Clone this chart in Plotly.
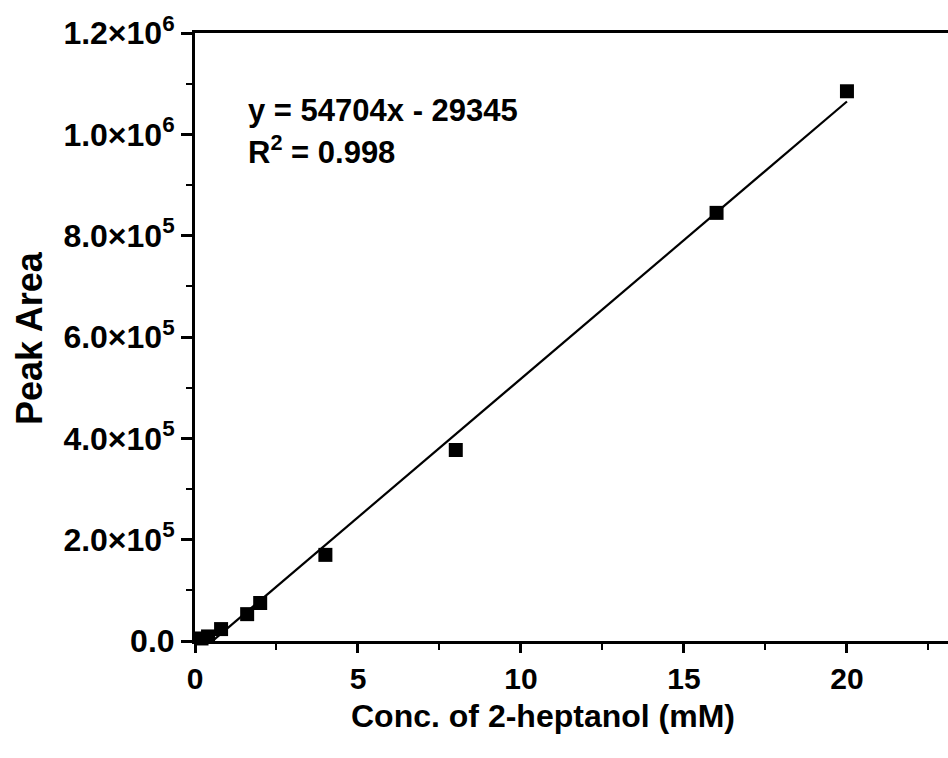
import plotly.graph_objects as go

conc = [0.2, 0.4, 0.8, 1.6, 2.0, 4.0, 8.0, 16.0, 20.0]
peak_area = [5000, 9000, 23500, 53000, 75000, 170000, 377000, 845000, 1085000]

slope = 54704
intercept = -29345
fit_x = [0.2, 20.0]
fit_y = [slope * v + intercept for v in fit_x]

y_tickvals = [0, 2e5, 4e5, 6e5, 8e5, 1e6, 1.2e6]
y_ticktext = ["0.0", "2.0×10<sup>5</sup>", "4.0×10<sup>5</sup>", "6.0×10<sup>5</sup>",
              "8.0×10<sup>5</sup>", "1.0×10<sup>6</sup>", "1.2×10<sup>6</sup>"]
x_tickvals = [0, 5, 10, 15, 20]

font_family = "Arial, 'Liberation Sans', sans-serif"

fig = go.Figure()
fig.add_trace(go.Scatter(x=fit_x, y=fit_y, mode="lines",
                         line=dict(color="black", width=2.2), showlegend=False))
fig.add_trace(go.Scatter(x=conc, y=peak_area, mode="markers",
                         marker=dict(symbol="square", size=14, color="black"),
                         showlegend=False, cliponaxis=False))

fig.update_layout(
    width=948, height=758,
    margin=dict(l=195, r=0, t=33, b=117),
    paper_bgcolor="white", plot_bgcolor="white",
    font=dict(family=font_family, color="black"),
    xaxis=dict(range=[0, 23.1], tickvals=x_tickvals, ticks="outside", ticklen=9,
               tickwidth=2.5, tickcolor="black", showline=True, linewidth=3,
               linecolor="black", mirror=True, showgrid=False, zeroline=False,
               tickfont=dict(size=30, family=font_family, weight="bold"),
               minor=dict(dtick=2.5, tick0=0, ticks="outside", ticklen=6, tickwidth=2,
                          tickcolor="black", showgrid=False)),
    yaxis=dict(range=[0, 1.2e6], tickvals=y_tickvals, ticktext=y_ticktext,
               ticks="outside", ticklen=11, tickwidth=2.5, tickcolor="black",
               showline=True, linewidth=3, linecolor="black", mirror=False,
               showgrid=False, zeroline=False,
               tickfont=dict(size=32, family=font_family, weight="bold"),
               minor=dict(dtick=1e5, tick0=0, ticks="outside", ticklen=6, tickwidth=2,
                          tickcolor="black", showgrid=False)),
)

fig.add_annotation(xref="paper", yref="paper", x=(543 - 195) / 753, y=(641 - 716) / 608,
                   text="<b>Conc. of 2-heptanol (mM)</b>", showarrow=False,
                   font=dict(size=32, family=font_family), xanchor="center", yanchor="middle")
fig.add_annotation(xref="paper", yref="paper", x=-(195 - 29) / 753, y=(641 - 338) / 608,
                   text="<b>Peak Area</b>", showarrow=False, textangle=-90,
                   font=dict(size=36, family=font_family), xanchor="center", yanchor="middle")
fig.add_annotation(xref="paper", yref="paper", x=(246 - 195) / 753, y=(641 - 111) / 608,
                   text="<b>y = 54704x - 29345</b>", showarrow=False, xanchor="left",
                   yanchor="middle", font=dict(size=31, family=font_family))
fig.add_annotation(xref="paper", yref="paper", x=(246 - 195) / 753, y=(641 - 150) / 608,
                   text="<b>R<sup>2</sup> = 0.998</b>", showarrow=False, xanchor="left",
                   yanchor="middle", font=dict(size=31, family=font_family))

fig.write_html("out.html")
